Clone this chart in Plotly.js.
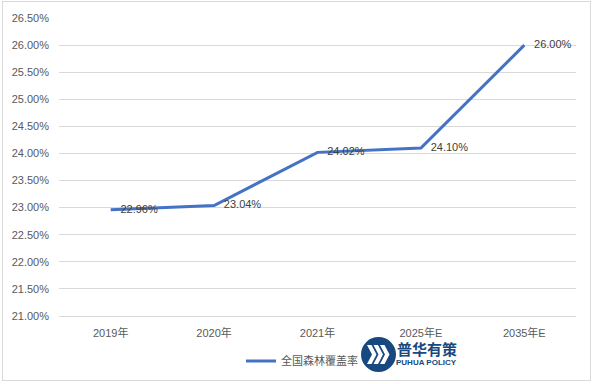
<!DOCTYPE html>
<html><head><meta charset="utf-8">
<script src="https://cdn.plot.ly/plotly-3.0.1.min.js"></script>
<style>
body{margin:0;padding:0;background:#fff;}
#wrap{position:relative;width:594px;height:384px;}
#chart{width:594px;height:384px;}
#border{position:absolute;left:2px;top:1px;width:587px;height:378px;border:1px solid #d9d9d9;pointer-events:none;}
</style></head>
<body>
<div id="wrap"><div id="chart"></div><div id="border"></div></div>
<script>
const categories = ["2019年", "2020年", "2021年", "2025年E", "2035年E"];
const coverage = [22.96, 23.04, 24.02, 24.10, 26.00];
const labels = ["22.96%", "23.04%", "24.02%", "24.10%", "26.00%"];
const yTicks = [21.0, 21.5, 22.0, 22.5, 23.0, 23.5, 24.0, 24.5, 25.0, 25.5, 26.0, 26.5];
const seriesName = "全国森林覆盖率";

const L = 59, R = 576, T = 18, B = 316;
const px = x => (x - L) / (R - L);
const py = y => (B - y) / (B - T);

const shapes = [{
  type: 'circle', xref: 'paper', yref: 'paper',
  x0: px(361), x1: px(396), y0: py(337), y1: py(372),
  fillcolor: '#17487f', line: {width: 0}
}];
for (let i = 0; i < 3; i++) {
  const x = 367 + i * 6.5;
  const pts = [[x,345],[x+4.5,345],[x+9.5,354.5],[x+4.5,364],[x,364],[x+5,354.5]];
  const d = 'M ' + pts.map(p => px(p[0]) + ',' + py(p[1])).join(' L ') + ' Z';
  shapes.push({type: 'path', xref: 'paper', yref: 'paper', path: d,
    fillcolor: '#ffffff', line: {width: 0}});
}

const trace = {
  x: categories, y: coverage, type: 'scatter', mode: 'lines+markers+text',
  name: seriesName, text: labels, textposition: 'middle right',
  textfont: {family: 'Liberation Sans, Arial, sans-serif', size: 11, color: '#404040'},
  marker: {size: 14, color: 'rgba(0,0,0,0)'},
  line: {color: '#4472C4', width: 3}, cliponaxis: false
};

const layout = {
  width: 594, height: 384,
  margin: {l: L, r: 594 - R, t: T, b: 384 - B, autoexpand: false},
  paper_bgcolor: '#fff', plot_bgcolor: '#fff',
  font: {family: 'Liberation Sans, Arial, "Noto Sans CJK SC", sans-serif', size: 11, color: '#595959'},
  xaxis: {type: 'category', range: [-0.5, 4.5], showgrid: false, zeroline: false, showline: true,
    linecolor: '#d9d9d9', linewidth: 1, ticks: '', ticklabelstandoff: 7, automargin: false,
    tickfont: {size: 11, color: '#595959'}},
  yaxis: {range: [21, 26.5], tickvals: yTicks, automargin: false,
    ticktext: yTicks.map(v => v.toFixed(2) + '%'),
    showgrid: true, gridcolor: '#d9d9d9', gridwidth: 1, zeroline: false,
    showline: false, ticks: '', ticklabelstandoff: 9, tickfont: {size: 11, color: '#595959'}},
  showlegend: true,
  legend: {orientation: 'h', x: px(302), xanchor: 'center', y: py(361), yanchor: 'middle',
    font: {size: 11, color: '#595959', family: '"Noto Sans CJK SC", sans-serif'}, bgcolor: 'rgba(0,0,0,0)'},
  shapes: shapes,
  annotations: [
    {text: '<b>普华有策</b>', xref: 'paper', yref: 'paper', x: px(426.5), y: py(348),
      xanchor: 'center', yanchor: 'middle', borderpad: 0,
      showarrow: false, font: {family: '"Noto Sans CJK SC", sans-serif', size: 15, color: '#17487f'}},
    {text: '<b>PUHUA POLICY</b>', xref: 'paper', yref: 'paper', x: px(426.5), y: py(362),
      xanchor: 'center', yanchor: 'middle', borderpad: 0,
      showarrow: false, font: {family: 'Liberation Sans, Arial, sans-serif', size: 8, color: '#17487f'}}
  ]
};

Plotly.newPlot('chart', [trace], layout, {displayModeBar: false, staticPlot: true});
</script>
</body></html>
